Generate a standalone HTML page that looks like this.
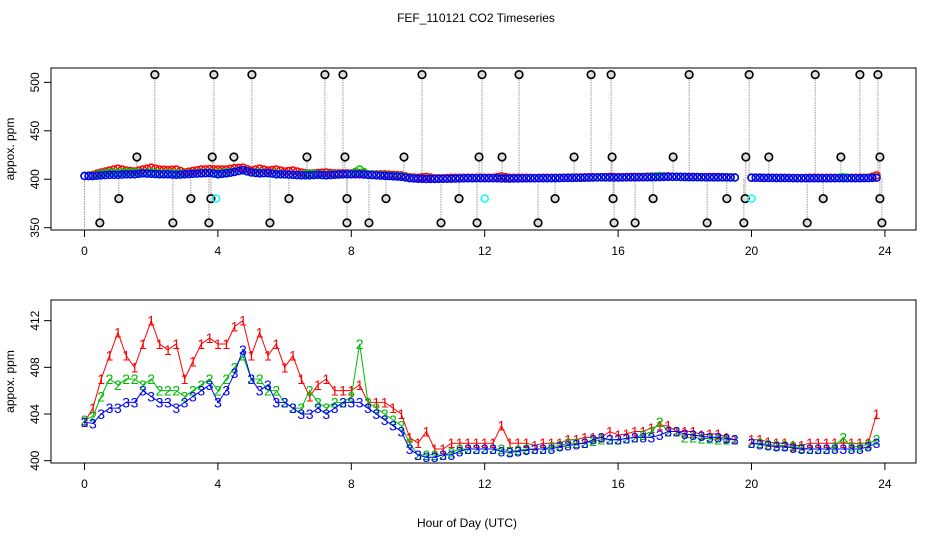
<!DOCTYPE html>
<html><head><meta charset="utf-8"><style>
body{margin:0;background:#fff;}
svg{display:block;font-family:"Liberation Sans",sans-serif;}
</style></head><body>
<svg id="c" width="936" height="540" xmlns="http://www.w3.org/2000/svg">
<text x="476" y="22" text-anchor="middle" font-size="12">FEF_110121  CO2 Timeseries</text>
<text x="467" y="527" text-anchor="middle" font-size="12">Hour of Day (UTC)</text>
<g id="top"></g>
<g id="bot"></g>
</svg>
<script>
const times=[];for(let i=0;i<96;i++)times.push(i*0.25);
const s1=[403.3,404.5,407,409,411,409,408,410,412,410,409.5,410,407,408.5,410,410.5,410,410,411.5,412,409,411,409,410,408,409,407,405.5,406.5,407,406,406,406,406.5,405,405,405,404.5,404,402,401.5,402.5,401,401,401.5,401.5,401.5,401.5,401.5,401.5,403,401.5,401.5,401.5,401.3,401.5,401.5,401.5,401.8,401.8,402,402,402,402.5,402.2,402.3,402.5,402.5,402.8,403,403,402.5,402.5,402.5,402.2,402.3,402.3,402,401.8,null,401.8,401.8,401.6,401.5,401.5,401.3,401.3,401.5,401.5,401.5,401.5,401.5,401.5,401.5,401.5,404];
const s2=[403.5,403.8,405.5,407,406.5,407,407,406.5,407,406,406,406,405.5,406,406.5,407,406,407,408,409,407,407,406,406,405,404.5,404.5,406,405,404.5,405,405,405.5,410,405,404.5,404,403.5,403,401.5,400.5,400.5,400.5,400.5,400.7,401,401,401,401,401,401,400.8,400.9,401,401,401,401.2,401.3,401.5,401.5,401.5,401.7,401.8,401.8,401.8,401.9,402,402.2,402.5,403.3,402.5,402.5,402,402,401.9,401.9,401.8,401.8,401.8,null,401.5,401.5,401.4,401.3,401.3,401.2,401.1,401,401,401,401.2,402,401.2,401.2,401.4,401.8];
const s3=[403.3,403.2,404,404.5,404.5,405,405,406,405.5,405,405,404.5,405,405.5,406,406.5,405,406,407.5,409.5,407,406,406.5,405,405,404.5,404,404,404.5,404,404.5,405,405,405,404.5,404,403.5,403,402.5,401,400.5,400.3,400.3,400.5,400.5,400.8,401,401,401,401,400.8,400.7,400.8,400.9,401,401,401,401.2,401.3,401.4,401.5,401.8,402,401.8,401.8,401.9,402,402,402,402.2,402.5,402.5,402.3,402.2,402.1,402,402,401.9,401.8,null,401.5,401.4,401.3,401.2,401.2,401.1,401,401,401,401,401,401,401,401,401.2,401.5];
const out508=[2.11,3.88,5.02,7.21,7.75,10.12,11.92,13.03,15.19,15.79,18.13,19.93,21.91,23.25,23.79];
const out423=[1.57,3.83,4.48,6.67,7.81,9.58,11.83,12.52,14.68,15.82,17.65,19.83,20.52,22.68,23.85];
const out380=[1.03,3.19,3.79,6.13,7.87,9.04,11.23,14.11,15.85,17.05,19.26,19.81,22.15,23.85];
const out355=[0.46,2.65,3.73,5.56,7.87,8.53,10.69,11.77,13.6,15.88,16.51,18.67,19.77,21.67,23.91];
const cyan380=[3.95,12.0,20.0];
const xTicks=[0,4,8,12,16,20,24];
const yTicksTop=[350,400,450,500];
const yTicksBot=[400,404,408,412];

const NS="http://www.w3.org/2000/svg";
const L=51,R=916;
const xs=t=>84.5+t*33.35;
const yT=v=>227.7-(v-350)*0.969;
const yB=v=>460.7-(v-400)*11.67;
function mk(p,tag,at){const e=document.createElementNS(NS,tag);for(const k in at)e.setAttribute(k,at[k]);p.appendChild(e);return e;}
function nearest(t){const i=Math.min(95,Math.max(0,Math.round(t/0.25)));let v=s3[i];if(v==null)v=s3[i-1]||s3[i+1];return v;}
function axes(g,top,bot,ticks,yf,name){
  const b=mk(g,'rect',{x:L,y:top,width:R-L,height:bot-top,fill:'none',stroke:'#000'});
  
  
  xTicks.forEach(t=>{const x=xs(t);
    const tk=mk(g,'line',{x1:x,x2:x,y1:bot,y2:bot+7,stroke:'#000'});
    
    
    const tx=mk(g,'text',{x:x,y:bot+25,'text-anchor':'middle','font-size':12});tx.textContent=t;
    
    });
  mk(g,'line',{x1:xs(0),x2:xs(24),y1:bot,y2:bot,stroke:'#000'});
  ticks.forEach(v=>{const y=yf(v);
    const tk=mk(g,'line',{x1:L-7,x2:L,y1:y,y2:y,stroke:'#000'});
    
    
    const tx=mk(g,'text',{x:0,y:0,'text-anchor':'middle','font-size':12,transform:`translate(${L-12},${y}) rotate(-90)`});tx.textContent=v;
    
    });
  const yl=mk(g,'text',{x:0,y:0,'text-anchor':'middle','font-size':12,transform:`translate(14,${(top+bot)/2}) rotate(-90)`});yl.textContent='appox. ppm';
  
  
}
// TOP
const gt=document.getElementById('top');
axes(gt,68,230,yTicksTop,yT,'top');
const clipT=mk(gt,'clipPath',{id:'ct'});mk(clipT,'rect',{x:L,y:68,width:R-L,height:162});
const gd=mk(gt,'g',{'clip-path':'url(#ct)'});
mk(gd,'line',{x1:xs(0),x2:xs(0),y1:yT(403.3),y2:240,stroke:'#999','stroke-dasharray':'1.5,1'});
[[out508,508],[out423,423],[out380,380],[out355,355]].forEach(([arr,v])=>arr.forEach(t=>{
  const l=mk(gd,'line',{x1:xs(t),x2:xs(t),y1:yT(v),y2:yT(nearest(t)),stroke:'#999','stroke-dasharray':'1.5,1'});
  
  }));
[[s1,'#f00'],[s2,'#0c0'],[s3,'#00f']].forEach(([s,c])=>{
  times.forEach((t,i)=>{if(s[i]==null)return;
    [0,0.125].forEach(d=>{if(d&&s[i+1]==null)return;const v=d?(s[i]+s[i+1])/2:s[i];
      const e=mk(gd,'circle',{cx:xs(t+d),cy:yT(v),r:3.5,fill:'none',stroke:c,'stroke-width':1.5});
      
      });});});
[[out508,508],[out423,423],[out380,380],[out355,355]].forEach(([arr,v])=>arr.forEach(t=>{
  const e=mk(gd,'circle',{cx:xs(t),cy:yT(v),r:3.8,fill:'#ddd',stroke:'#000','stroke-width':1.6});
  
  }));
cyan380.forEach(t=>{const e=mk(gd,'circle',{cx:xs(t),cy:yT(380),r:3.5,fill:'none',stroke:'#0ff','stroke-width':1.5});
  
  });
// BOTTOM
const gb=document.getElementById('bot');
axes(gb,300,463,yTicksBot,yB,'bottom');
[[s1,'#f00','1'],[s2,'#0b0','2'],[s3,'#00f','3']].forEach(([s,c,ch])=>{
  let d='';let pen=false;
  times.forEach((t,i)=>{if(s[i]==null){pen=false;return;}d+=(pen?'L':'M')+xs(t)+','+yB(s[i]);pen=true;});
  const p=mk(gb,'path',{d:d,fill:'none',stroke:c,'stroke-width':1});
  
  
  times.forEach((t,i)=>{if(s[i]==null)return;
    const tx=mk(gb,'text',{x:xs(t),y:yB(s[i])+5,'text-anchor':'middle','font-size':14,fill:c});tx.textContent=ch;
    
    });
});
</script>
</body></html>
